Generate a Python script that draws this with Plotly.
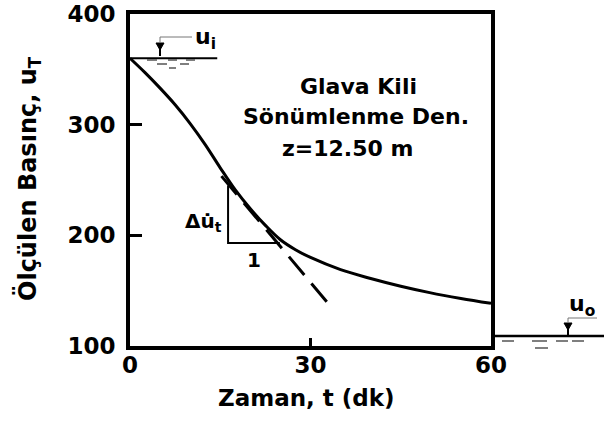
import plotly.graph_objects as go

# ---- data ----
time_min = [0, 2.5, 5, 7.5, 10, 12.5, 15, 17.5, 20, 22.5, 25, 27.5, 30, 35, 40, 45, 50, 55, 60]
pressure = [360, 347, 333, 318, 301, 282, 261, 241, 224, 209, 196, 187, 180, 169, 161, 154, 148, 143, 138.5]
tangent_t = [15.2, 32.7]
tangent_u = [253.5, 140]
triangle_t = [16.3, 16.3, 24.9]
triangle_u = [245, 193, 193]
x_ticks = [0, 30, 60]
y_ticks = [100, 200, 300, 400]
u_initial = 360
info_lines = ["Glava Kili", "Sönümlenme Den.", "z=12.50 m"]

FONT = "DejaVu Sans"
W, H = 604, 421
L, R, T, B = 130, 491, 14, 346  # plot area in px


def px(xp):
    return (xp - L) / (R - L)


def py(yp):
    return (B - yp) / (B - T)


fig = go.Figure()
fig.add_trace(go.Scatter(x=time_min, y=pressure, mode="lines",
                         line=dict(color="black", width=3, shape="spline", smoothing=1.0),
                         hoverinfo="skip", showlegend=False))
fig.add_trace(go.Scatter(x=tangent_t, y=tangent_u, mode="lines",
                         line=dict(color="black", width=3, dash="24px,11px"),
                         hoverinfo="skip", showlegend=False))
fig.add_trace(go.Scatter(x=triangle_t, y=triangle_u, mode="lines",
                         line=dict(color="black", width=2),
                         hoverinfo="skip", showlegend=False))

shapes = []
# water level u_i (inside plot)
shapes.append(dict(type="line", xref="x", yref="y", x0=0, x1=14.5, y0=u_initial, y1=u_initial,
                   line=dict(color="black", width=2)))
# u_o level (outside plot, right)
shapes.append(dict(type="line", xref="paper", yref="paper", x0=px(R), x1=px(W), y0=py(336), y1=py(336),
                   line=dict(color="black", width=2.5)))


def dash_rows(rows):
    for yy, segs in rows:
        for a, b in segs:
            shapes.append(dict(type="line", xref="paper", yref="paper", x0=px(a), x1=px(b),
                               y0=py(yy), y1=py(yy), line=dict(color="#555", width=1.5)))


dash_rows([(60, [(147, 157), (168, 177), (186, 195)]),
           (64, [(157, 167), (180, 189)]),
           (68, [(169, 176)])])
dash_rows([(341, [(502, 514), (532, 547), (556, 568), (572, 584)]),
           (348, [(535, 548)])])


def level_marker(xc, ytop, ybase, lead_x1, lead_y):
    # filled down-pointing triangle with stem and leader line
    shapes.append(dict(type="path", xref="paper", yref="paper",
                       path=f"M {px(xc-4)} {py(ytop)} L {px(xc+4)} {py(ytop)} L {px(xc)} {py(ytop+7)} Z",
                       fillcolor="black", line=dict(color="black", width=1)))
    shapes.append(dict(type="line", xref="paper", yref="paper", x0=px(xc), x1=px(xc),
                       y0=py(ytop), y1=py(ybase), line=dict(color="black", width=2)))
    shapes.append(dict(type="path", xref="paper", yref="paper",
                       path=f"M {px(xc)} {py(ytop)} L {px(xc)} {py(lead_y)} L {px(lead_x1)} {py(lead_y)}",
                       line=dict(color="#777", width=1)))


level_marker(160, 43, 56, 192, 37)
level_marker(568, 323, 335, 597, 318)

ann = []
for i, txt in enumerate(info_lines):
    ann.append(dict(text=f"<b>{txt}</b>", xref="paper", yref="paper",
                    x=px([358, 356, 347][i]), y=py([86, 117, 148][i]),
                    showarrow=False, font=dict(family=FONT, size=22, color="black"),
                    xanchor="center", yanchor="middle"))
ann.append(dict(text="<b>Δu̇<sub>t</sub></b>", xref="paper", yref="paper", x=px(224), y=py(222),
                showarrow=False, font=dict(family=FONT, size=20, color="black"),
                xanchor="right", yanchor="middle"))
ann.append(dict(text="<b>1</b>", xref="paper", yref="paper", x=px(254), y=py(260),
                showarrow=False, font=dict(family=FONT, size=20, color="black"),
                xanchor="center", yanchor="middle"))
ann.append(dict(text="<b>u<sub>i</sub></b>", xref="paper", yref="paper", x=px(193), y=py(38),
                showarrow=False, font=dict(family=FONT, size=22, color="black"),
                xanchor="left", yanchor="middle"))
ann.append(dict(text="<b>u<sub>o</sub></b>", xref="paper", yref="paper", x=px(567), y=py(305),
                showarrow=False, font=dict(family=FONT, size=22, color="black"),
                xanchor="left", yanchor="middle"))
# axis titles
ann.append(dict(text="<b>Zaman, t (dk)</b>", xref="paper", yref="paper", x=px(306), y=py(398),
                showarrow=False, font=dict(family=FONT, size=23, color="black"),
                xanchor="center", yanchor="middle"))
ann.append(dict(text="<b>Ölçülen Basınç, u<sub>T</sub></b>", xref="paper", yref="paper",
                x=px(28), y=py(178), textangle=-90,
                showarrow=False, font=dict(family=FONT, size=24, color="black"),
                xanchor="center", yanchor="middle"))

fig.update_layout(
    width=W, height=H,
    margin=dict(l=L, r=W - R, t=T, b=H - B, pad=0),
    paper_bgcolor="white", plot_bgcolor="white",
    shapes=shapes, annotations=ann, showlegend=False,
    xaxis=dict(range=[0, 60], tickvals=x_ticks, ticks="inside", ticklen=8, tickwidth=2.5,
               tickcolor="black", showline=True, linecolor="black", linewidth=4, mirror=True,
               showgrid=False, zeroline=False, fixedrange=True, ticklabelstandoff=-5,
               automargin=False,
               tickfont=dict(family=FONT, size=23, color="black", weight="bold")),
    yaxis=dict(range=[100, 400], tickvals=y_ticks, ticks="inside", ticklen=12, tickwidth=2.5,
               tickcolor="black", showline=True, linecolor="black", linewidth=4, mirror=True,
               showgrid=False, zeroline=False, fixedrange=True, ticklabelstandoff=6,
               automargin=False,
               tickfont=dict(family=FONT, size=23, color="black", weight="bold")),
)

fig.write_html("out.html", config={"displayModeBar": False})
